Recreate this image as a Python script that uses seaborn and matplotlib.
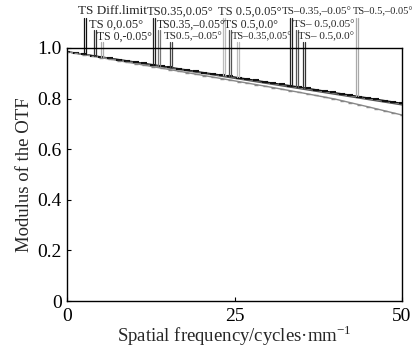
import numpy as np
import pandas as pd
import matplotlib
matplotlib.use("Agg")
import matplotlib.pyplot as plt
import seaborn as sns

# MTF curves
freq = [0, 5, 10, 15, 20, 25, 30, 35, 40, 45, 50]
mtf_diff = [0.985, 0.965, 0.945, 0.925, 0.904, 0.885, 0.864, 0.844, 0.823, 0.802, 0.781]
mtf_field = [0.985, 0.964, 0.943, 0.922, 0.901, 0.880, 0.859, 0.838, 0.817, 0.796, 0.775]
mtf_edge = [0.985, 0.962, 0.939, 0.916, 0.893, 0.870, 0.847, 0.823, 0.798, 0.767, 0.735]

# field labels, their leader-line frequency and row (0 = top row)
labels = ["TS Diff.limit", "TS 0,0.05°", "TS 0,-0.05°",
          "TS0.35,0.05°", "TS0.35,–0.05°", "TS0.5,–0.05°",
          "TS 0.5,0.05°", "TS 0.5,0.0°", "TS–0.35,0.05°",
          "TS–0.35,–0.05°", "TS– 0.5,0.05°", "TS– 0.5,0.0°",
          "TS–0.5,–0.05°"]
lead_x = [2.6, 4.0, 5.1, 12.8, 13.6, 15.4, 23.3, 24.2, 25.4, 33.3, 34.2, 35.2, 43.1]
text_x = [1.6, 3.3, 4.5, 11.9, 13.4, 14.5, 22.5, 23.4, 24.6, 32.1, 33.7, 34.5, 42.6]
rows = [0, 1, 2, 0, 1, 2, 0, 1, 2, 0, 1, 2, 0]
lead_col = ["#111111", "#333333", "#aaaaaa", "#222222", "#777777", "#444444",
            "#bbbbbb", "#555555", "#bbbbbb", "#222222", "#555555", "#333333", "#aaaaaa"]
text_size = [9.5, 9, 8.5, 9, 8.5, 8, 9, 8.5, 7.5, 8, 8, 8, 7.5]

sns.set_style("ticks")
plt.rcParams['font.family'] = ['Liberation Serif', 'DejaVu Serif']
plt.rcParams['mathtext.fontset'] = 'custom'
plt.rcParams['mathtext.rm'] = 'Liberation Serif'

fig = plt.figure(figsize=(4.14, 3.5), dpi=100)
ax = fig.add_axes([0.162, 0.14, 0.809, 0.723])

df = pd.DataFrame({"freq": freq * 3,
                   "mtf": mtf_diff + mtf_field + mtf_edge,
                   "curve": ["diff"] * 11 + ["field"] * 11 + ["edge"] * 11})
sns.lineplot(data=df, x="freq", y="mtf", hue="curve", ax=ax,
             palette={"diff": "#111111", "field": "#555555", "edge": "#888888"},
             linewidth=1.0, legend=False)
# small dash markers along the curves
fine = np.linspace(0, 50, 40)
ax.plot(fine, np.interp(fine, freq, mtf_diff), ls="none", marker="_",
        ms=4, mew=1.5, color="#111111")
ax.plot(fine, np.interp(fine, freq, mtf_edge), ls="none", marker="_",
        ms=3, mew=1.0, color="#888888")

# leader lines and labels above the axes
row_top = [1.12, 1.07, 1.025]
row_text = [1.145, 1.093, 1.045]
for lab, lx, tx, r, c, fs in zip(labels, lead_x, text_x, rows, lead_col, text_size):
    y0 = np.interp(lx, freq, mtf_diff)
    for dx in (0, 0.3):
        ax.plot([lx + dx, lx + dx], [y0, row_top[r]], color=c, lw=0.9,
                clip_on=False)
    ax.text(tx, row_text[r], lab, fontsize=fs, ha="left", va="center",
            clip_on=False)

ax.set_xlim(0, 50)
ax.set_ylim(0, 1.0)
ax.set_xticks([0, 25, 50])
ax.set_xticklabels(["0", "25", "50"])
ax.set_yticks([0, 0.2, 0.4, 0.6, 0.8, 1.0])
ax.set_yticklabels(["0", "0.2", "0.4", "0.6", "0.8", "1.0"])
ax.tick_params(direction="in", length=3, labelsize=14, colors="black", pad=4)
ax.tick_params(axis="x", pad=5)
for s in ax.spines.values():
    s.set_color("black")
    s.set_linewidth(1.0)
ax.set_xlabel("Spatial frequency/cycles·mm$^{-1}$", fontsize=13.5, labelpad=-1)
ax.set_ylabel("Modulus of the OTF", fontsize=13.5, labelpad=3)

fig.savefig("out.png", dpi=100)
